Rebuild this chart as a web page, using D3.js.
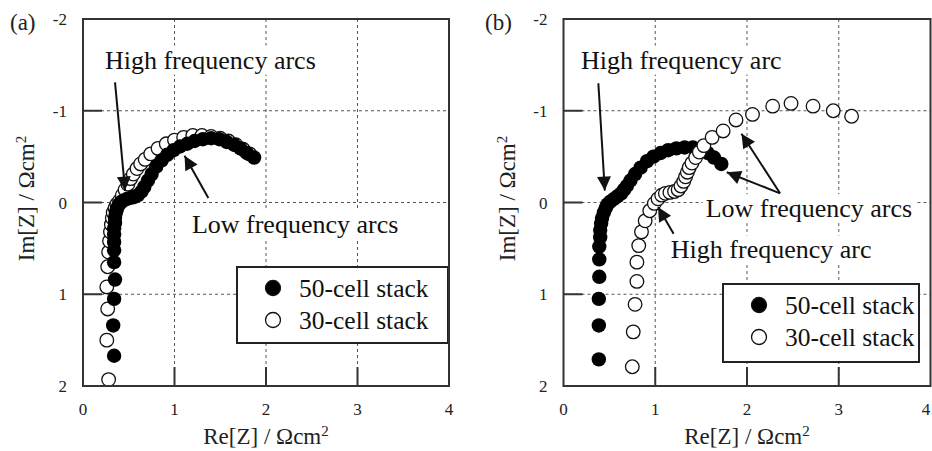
<!DOCTYPE html>
<html lang="en">
<head>
  <meta charset="UTF-8" />
  <title>Impedance spectra - 50-cell vs 30-cell stack</title>
  <style>
    body { margin: 0; background: #fff; }
    svg { display: block; font-family: "Liberation Serif", "Times New Roman", serif; }
    .grid line { stroke: #555; stroke-width: 1; stroke-dasharray: 3,3; }
    .frame { fill: none; stroke: #333; stroke-width: 2; }
    .tick-in { stroke: #333; stroke-width: 2; }
    .tick-label { font-size: 17px; fill: #222; }
    .axis-title { font-size: 23px; fill: #222; }
    .note { font-size: 26px; fill: #111; }
    .legend-text { font-size: 25.5px; fill: #111; }
    .arrow { stroke: #111; stroke-width: 2; }
  </style>
</head>
<body>
  <svg width="932" height="451"></svg>

  <script src="https://d3js.org/d3.v7.min.js"></script>
  <script>
    // Re[Z], Im[Z] pairs (Ωcm²)
    const a50 = [[0.34,1.67],[0.33,1.34],[0.34,1.05],[0.35,0.84],[0.34,0.65],[0.34,0.52],[0.34,0.43],[0.34,0.35],
      [0.34,0.28],[0.35,0.22],[0.35,0.16],[0.36,0.11],[0.37,0.07],[0.39,0.03],[0.41,0.0],[0.44,-0.02],
      [0.48,-0.04],[0.52,-0.05],[0.56,-0.06],[0.60,-0.08],[0.64,-0.12],[0.67,-0.17],[0.71,-0.24],[0.75,-0.31],
      [0.80,-0.39],[0.86,-0.46],[0.92,-0.52],[0.99,-0.57],[1.06,-0.61],[1.14,-0.64],[1.22,-0.67],[1.31,-0.69],
      [1.40,-0.70],[1.49,-0.69],[1.57,-0.66],[1.65,-0.63],[1.72,-0.59],[1.79,-0.54],[1.87,-0.49]];
    const a30 = [[0.28,1.93],[0.26,1.50],[0.27,1.16],[0.26,0.92],[0.27,0.70],[0.28,0.54],[0.29,0.42],[0.30,0.32],
      [0.31,0.24],[0.32,0.17],[0.33,0.11],[0.35,0.06],[0.37,0.02],[0.40,-0.02],[0.43,-0.08],[0.46,-0.14],
      [0.49,-0.20],[0.52,-0.26],[0.55,-0.31],[0.59,-0.37],[0.63,-0.42],[0.68,-0.47],[0.74,-0.53],[0.82,-0.59],
      [0.91,-0.64],[1.00,-0.68],[1.10,-0.71],[1.20,-0.73],[1.30,-0.73],[1.40,-0.72],[1.50,-0.70],[1.59,-0.67],
      [1.67,-0.63],[1.75,-0.58],[1.82,-0.53]];
    const b50 = [[0.385,1.71],[0.385,1.34],[0.385,1.05],[0.39,0.81],[0.39,0.62],[0.39,0.48],[0.40,0.38],[0.40,0.30],
      [0.41,0.23],[0.42,0.17],[0.44,0.11],[0.46,0.06],[0.48,0.02],[0.51,-0.01],[0.55,-0.04],[0.59,-0.07],
      [0.63,-0.10],[0.66,-0.14],[0.69,-0.18],[0.73,-0.24],[0.78,-0.31],[0.84,-0.38],[0.91,-0.45],[0.98,-0.50],
      [1.06,-0.54],[1.14,-0.57],[1.23,-0.59],[1.32,-0.60],[1.41,-0.60],[1.49,-0.58],[1.57,-0.54],[1.64,-0.49],
      [1.72,-0.42]];
    const b30 = [[0.75,1.79],[0.76,1.41],[0.78,1.11],[0.80,0.86],[0.80,0.65],[0.82,0.47],[0.85,0.32],[0.89,0.20],
      [0.94,0.09],[0.99,0.01],[1.03,-0.04],[1.07,-0.08],[1.11,-0.10],[1.16,-0.11],[1.21,-0.12],[1.25,-0.14],
      [1.28,-0.18],[1.31,-0.23],[1.33,-0.28],[1.35,-0.33],[1.37,-0.38],[1.40,-0.43],[1.44,-0.49],[1.48,-0.55],
      [1.53,-0.62],[1.62,-0.71],[1.74,-0.78],[1.88,-0.90],[2.06,-0.96],[2.28,-1.05],[2.48,-1.08],[2.72,-1.05],
      [2.94,-1.00],[3.14,-0.94]];

    const ticks = [0, 1, 2, 3, 4];
    const yTicks = [-2, -1, 0, 1, 2];
    const seriesNames = ["50-cell stack", "30-cell stack"];

    const svg = d3.select("svg");
    const W = +svg.attr("width");

    svg.append("defs").append("marker")
      .attr("id", "head")
      .attr("viewBox", "0 0 10 10")
      .attr("refX", 10).attr("refY", 5)
      .attr("markerWidth", 8).attr("markerHeight", 7)
      .attr("markerUnits", "strokeWidth")
      .attr("orient", "auto")
      .append("path").attr("d", "M0,0L10,5L0,10Z").attr("fill", "#111");

    const panels = [
      {
        tag: "(a)", tagX: 10, left: 83, right: 449, top: 19, bottom: 386,
        filled: a50, open: a30, openOnTop: false,
        notes: [
          { text: "High frequency arcs", x: 0.24, y: -1.46 },
          { text: "Low frequency arcs", x: 1.19, y: 0.33 }
        ],
        arrows: [
          { from: [0.35, -1.31], to: [0.46, -0.13] },
          { from: [1.37, -0.05], to: [1.11, -0.51] }
        ],
        legend: { x: 237, y: 267, w: 211, h: 76 }
      },
      {
        tag: "(b)", tagX: 485, left: 563.5, right: 930.5, top: 19, bottom: 386,
        filled: b50, open: b30, openOnTop: true,
        notes: [
          { text: "High frequency arc", x: 0.19, y: -1.46 },
          { text: "Low frequency arcs", x: 1.55, y: 0.16 },
          { text: "High frequency arc", x: 1.17, y: 0.61 }
        ],
        arrows: [
          { from: [0.38, -1.30], to: [0.45, -0.13] },
          { from: [2.36, -0.10], to: [1.94, -0.75] },
          { from: [2.36, -0.10], to: [1.78, -0.33] },
          { from: [1.20, 0.34], to: [1.03, 0.05] }
        ],
        legend: { x: 723, y: 284, w: 196, h: 78 }
      }
    ];

    panels.forEach(p => {
      const x = d3.scaleLinear().domain([0, 4]).range([p.left, p.right]);
      const y = d3.scaleLinear().domain([-2, 2]).range([p.top, p.bottom]);
      const g = svg.append("g");

      // dashed grid
      const grid = g.append("g").attr("class", "grid");
      grid.selectAll(".gx").data([1, 2, 3]).join("line")
        .attr("x1", d => x(d)).attr("x2", d => x(d))
        .attr("y1", p.top).attr("y2", p.bottom);
      grid.selectAll(".gy").data([-1, 0, 1]).join("line")
        .attr("x1", p.left).attr("x2", p.right)
        .attr("y1", d => y(d)).attr("y2", d => y(d));

      // inward ticks
      g.selectAll(".tx").data([1, 2, 3]).join("line").attr("class", "tick-in")
        .attr("x1", d => x(d)).attr("x2", d => x(d))
        .attr("y1", p.bottom).attr("y2", p.bottom - 19);
      g.selectAll(".ty").data([-1, 0, 1]).join("line").attr("class", "tick-in")
        .attr("x1", p.left).attr("x2", p.left + 19)
        .attr("y1", d => y(d)).attr("y2", d => y(d));

      g.selectAll(".xl").data(ticks).join("text").attr("class", "tick-label")
        .attr("x", d => Math.min(x(d), W - 6)).attr("y", p.bottom + 29)
        .attr("text-anchor", "middle").text(d => d);
      g.selectAll(".yl").data(yTicks).join("text").attr("class", "tick-label")
        .attr("x", p.left - 16).attr("y", d => y(d) + 6)
        .attr("text-anchor", "end").text(d => d);

      g.append("text").attr("class", "axis-title")
        .attr("x", (p.left + p.right) / 2).attr("y", p.bottom + 58)
        .attr("text-anchor", "middle")
        .html('Re[Z] / Ωcm<tspan font-size="15" dy="-8">2</tspan>');
      g.append("text").attr("class", "axis-title")
        .attr("transform", `translate(${p.left - 49},${(p.top + p.bottom) / 2 - 4}) rotate(-90)`)
        .attr("text-anchor", "middle")
        .html('Im[Z] / Ωcm<tspan font-size="15" dy="-8">2</tspan>');

      g.append("text").attr("class", "axis-title")
        .attr("x", p.tagX).attr("y", 30).attr("font-size", 21).text(p.tag);

      // text notes with white boxes behind
      p.notes.forEach(n => {
        const t = g.append("text").attr("class", "note")
          .attr("x", x(n.x)).attr("y", y(n.y)).text(n.text);
        const b = t.node().getBBox();
        g.insert("rect", () => t.node())
          .attr("x", b.x - 3).attr("y", b.y).attr("width", b.width + 6).attr("height", b.height)
          .attr("fill", "#fff");
      });

      const drawOpen = () => g.append("g").selectAll("circle").data(p.open).join("circle")
        .attr("cx", d => x(d[0])).attr("cy", d => y(d[1])).attr("r", 6.8)
        .attr("fill", "#fff").attr("stroke", "#111").attr("stroke-width", 1.3);
      const drawFilled = () => g.append("g").selectAll("circle").data(p.filled).join("circle")
        .attr("cx", d => x(d[0])).attr("cy", d => y(d[1])).attr("r", 7.2)
        .attr("fill", "#000");
      if (p.openOnTop) { drawFilled(); drawOpen(); } else { drawOpen(); drawFilled(); }

      p.arrows.forEach(a => {
        g.append("line").attr("class", "arrow")
          .attr("x1", x(a.from[0])).attr("y1", y(a.from[1]))
          .attr("x2", x(a.to[0])).attr("y2", y(a.to[1]))
          .attr("marker-end", "url(#head)");
      });

      // legend
      const L = p.legend;
      const lg = g.append("g").attr("transform", `translate(${L.x},${L.y})`);
      lg.append("rect").attr("width", L.w).attr("height", L.h)
        .attr("fill", "#fff").attr("stroke", "#222").attr("stroke-width", 2);
      seriesNames.forEach((s, i) => {
        const cy = 21 + i * 32;
        lg.append("circle").attr("cx", 36).attr("cy", cy).attr("r", 7.5)
          .attr("fill", i === 0 ? "#000" : "#fff").attr("stroke", "#111").attr("stroke-width", 1.3);
        lg.append("text").attr("class", "legend-text").attr("x", 62).attr("y", cy + 9).text(s);
      });

      g.append("rect").attr("class", "frame")
        .attr("x", p.left).attr("y", p.top)
        .attr("width", p.right - p.left).attr("height", p.bottom - p.top);
    });
  </script>
</body>
</html>
